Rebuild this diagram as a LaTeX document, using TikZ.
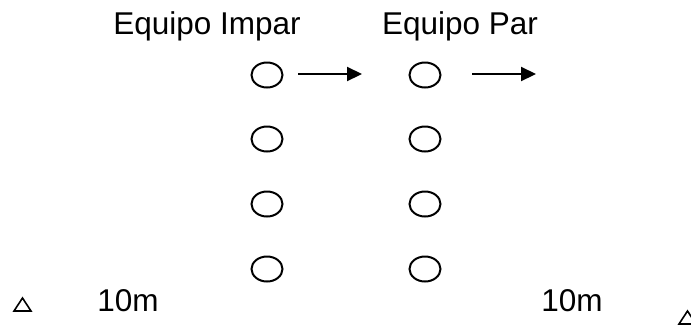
\documentclass[tikz,border=0pt]{standalone}
\usepackage{fontspec}
\setmainfont{Liberation Sans}
\usetikzlibrary{arrows.meta,shapes.geometric}
\begin{document}
\begin{tikzpicture}[x=1pt,y=-1pt,
  player/.style={draw,line width=2pt,ellipse,minimum width=31pt,minimum height=25pt,inner sep=0pt},
  label/.style={font=\fontsize{31.5}{34}\selectfont,inner sep=0pt},
  run/.style={line width=2.2pt,-{Triangle[length=15pt,width=14pt]}},
  cone/.style={draw,line width=1.6pt,line join=miter}]
\useasboundingbox (0,0) rectangle (691,325);
% team headings
\node[label] (hodd) at (207,26) {Equipo Impar};
\node[label] (heven) at (460,26) {Equipo Par};
% players of the odd team
\node[player] (o1) at (267,75) {};
\node[player] (o2) at (267,139) {};
\node[player] (o3) at (267,204) {};
\node[player] (o4) at (267,269) {};
% players of the even team
\node[player] (e1) at (425,75) {};
\node[player] (e2) at (425,139) {};
\node[player] (e3) at (425,204) {};
\node[player] (e4) at (425,269) {};
% running directions
\coordinate (a1s) at (298,74);
\coordinate (a1e) at (362,74);
\coordinate (a2s) at (472,74);
\coordinate (a2e) at (536,74);
\draw[run] (a1s) -- (a1e);
\draw[run] (a2s) -- (a2e);
% distance labels
\node[label] (dl) at (128,301) {10m};
\node[label] (dr) at (572,301) {10m};
% cones
\draw[cone] (14,311) -- (31,311) -- (22.5,298) -- cycle;
\draw[cone] (679,324) -- (696,324) -- (687.5,311) -- cycle;
\end{tikzpicture}
\end{document}
